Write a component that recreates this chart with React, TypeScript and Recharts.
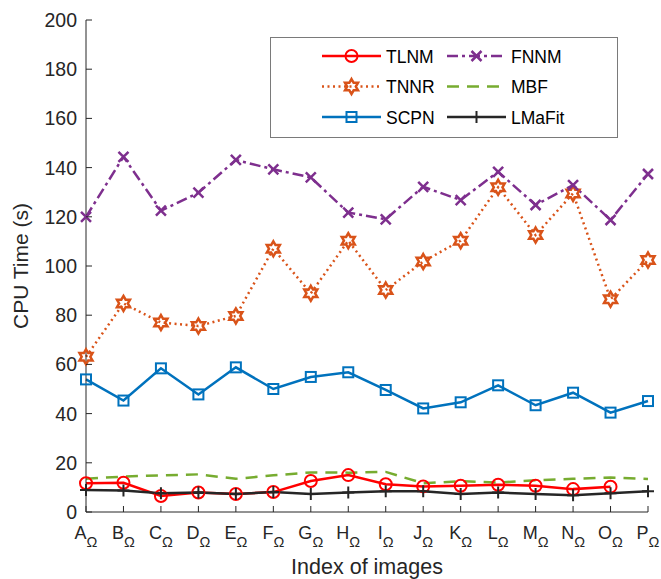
import React from 'react';
import { LineChart, Line, XAxis, YAxis, Legend } from 'recharts';

const categories = ['A', 'B', 'C', 'D', 'E', 'F', 'G', 'H', 'I', 'J', 'K', 'L', 'M', 'N', 'O', 'P'];
const tlnm = [11.7, 11.9, 6.5, 7.9, 7.3, 8.1, 12.6, 15.0, 11.3, 10.4, 10.7, 11.1, 10.7, 9.3, 10.3, null];
const tnnr = [63.1, 84.8, 77.0, 75.6, 79.7, 107.0, 88.9, 110.3, 90.2, 101.8, 110.3, 132.0, 112.6, 129.5, 86.5, 102.4];
const scpn = [53.9, 45.3, 58.4, 47.8, 58.8, 50.0, 54.9, 56.8, 49.6, 42.1, 44.6, 51.5, 43.4, 48.5, 40.4, 45.1];
const fnnm = [120.0, 144.4, 122.5, 129.8, 143.1, 139.3, 136.0, 121.7, 119.0, 132.2, 126.8, 138.3, 124.8, 132.9, 118.7, 137.4];
const mbf = [13.5, 14.4, 14.9, 15.3, 13.5, 14.9, 16.1, 16.0, 16.3, 11.7, 12.5, 12.0, 12.9, 13.5, 14.0, 13.4];
const lmafit = [8.9, 8.7, 7.6, 7.9, 7.3, 8.1, 7.3, 7.9, 8.4, 8.4, 7.3, 7.9, 7.3, 6.8, 7.6, 8.4];
const yTicks = [0, 20, 40, 60, 80, 100, 120, 140, 160, 180, 200];

const data = categories.map((name, i) => ({
  name,
  TLNM: tlnm[i],
  TNNR: tnnr[i],
  SCPN: scpn[i],
  FNNM: fnnm[i],
  MBF: mbf[i],
  LMaFit: lmafit[i],
}));

const AXIS = '#262626';
const FONT = '"Liberation Sans", Arial, sans-serif';

type Marker = 'circle' | 'hex' | 'square' | 'x' | 'none' | 'plus';

const drawMarker = (kind: Marker, cx: number, cy: number, color: string, key?: string) => {
  if (kind === 'circle') return <circle key={key} cx={cx} cy={cy} r={6} fill="none" stroke={color} strokeWidth={2} />;
  if (kind === 'square') return <rect key={key} x={cx - 5} y={cy - 5} width={10} height={10} fill="none" stroke={color} strokeWidth={2} />;
  if (kind === 'x') return (
    <path key={key} d={`M${cx - 5},${cy - 5}L${cx + 5},${cy + 5}M${cx - 5},${cy + 5}L${cx + 5},${cy - 5}`} stroke={color} strokeWidth={2.5} />
  );
  if (kind === 'plus') return (
    <path key={key} d={`M${cx - 6},${cy}L${cx + 6},${cy}M${cx},${cy - 6}L${cx},${cy + 6}`} stroke={color} strokeWidth={2} />
  );
  if (kind === 'hex') {
    const r = 7.5;
    const ri = r / Math.sqrt(3);
    const pts: string[] = [];
    for (let k = 0; k < 12; k++) {
      const rr = k % 2 === 0 ? r : ri;
      const a = (-90 + k * 30) * Math.PI / 180;
      pts.push(`${cx + rr * Math.cos(a)},${cy + rr * Math.sin(a)}`);
    }
    return <polygon key={key} points={pts.join(' ')} fill="none" stroke={color} strokeWidth={2.5} strokeLinejoin="miter" />;
  }
  return <g key={key} />;
};

const series = [
  { key: 'TLNM', color: '#FF0000', dash: undefined, marker: 'circle' as Marker, width: 2.5 },
  { key: 'TNNR', color: '#D95319', dash: '2 3.5', marker: 'hex' as Marker, width: 2.5 },
  { key: 'SCPN', color: '#0072BD', dash: undefined, marker: 'square' as Marker, width: 2.5 },
  { key: 'FNNM', color: '#7E2F8E', dash: '11 4 3 4', marker: 'x' as Marker, width: 2.5 },
  { key: 'MBF', color: '#77AC30', dash: '12 8', marker: 'none' as Marker, width: 2.5 },
  { key: 'LMaFit', color: '#262626', dash: undefined, marker: 'plus' as Marker, width: 2.5 },
];

const legendOrder = ['TLNM', 'FNNM', 'TNNR', 'MBF', 'SCPN', 'LMaFit'];

const LegendBox = () => (
  <svg width={348} height={101} style={{ display: 'block' }}>
    <rect x={0.5} y={0.5} width={347} height={100} fill="#fff" stroke="#7a7a7a" strokeWidth={1} />
    {legendOrder.map((k, i) => {
      const s = series.find(d => d.key === k)!;
      const col = i % 2;
      const row = Math.floor(i / 2);
      const x0 = col === 0 ? 52 : 177;
      const y0 = 19 + row * 30.5;
      return (
        <g key={k}>
          <line x1={x0} y1={y0} x2={x0 + 59} y2={y0} stroke={s.color} strokeWidth={s.width} strokeDasharray={s.dash} />
          {drawMarker(s.marker, x0 + 29.5, y0, s.color)}
          <text x={x0 + 64} y={y0 + 6.5} fontSize={17.5} fontFamily={FONT} fill="#000">{k}</text>
        </g>
      );
    })}
  </svg>
);

const XTick = (props: any) => {
  const { x, y, payload } = props;
  return (
    <g>
      <line x1={x} y1={y} x2={x} y2={y - 6} stroke={AXIS} strokeWidth={1} />
      <text x={x} y={y + 27} textAnchor="middle" fontSize={18} fontFamily={FONT} fill={AXIS}>
        <tspan>{payload.value}</tspan>
        <tspan dy={8} fontSize={14.5}>Ω</tspan>
      </text>
    </g>
  );
};

const XTopTick = (props: any) => {
  const { x, y } = props;
  return <line x1={x} y1={y} x2={x} y2={y + 6} stroke={AXIS} strokeWidth={1} />;
};

const YTick = (props: any) => {
  const { x, y, payload } = props;
  return (
    <g>
      <line x1={x} y1={y} x2={x + 6} y2={y} stroke={AXIS} strokeWidth={1} />
      <text x={x - 9} y={y + 7} textAnchor="end" fontSize={19.5} fontFamily={FONT} fill={AXIS}>{payload.value}</text>
    </g>
  );
};

const YRightTick = (props: any) => {
  const { x, y } = props;
  return <line x1={x} y1={y} x2={x - 6} y2={y} stroke={AXIS} strokeWidth={1} />;
};

export default function App() {
  return (
    <div style={{ position: 'absolute', left: 0, top: 0, background: '#fff' }}>
      <LineChart width={661} height={579} data={data} margin={{ top: 20, right: 13, left: 0, bottom: 0 }}>
        <XAxis dataKey="name" interval={0} height={67} padding={{ left: 0, right: 0 }} tickSize={0} tickMargin={0}
          tickLine={false} stroke={AXIS} tick={<XTick />}
          label={{ value: 'Index of images', position: 'insideBottom', offset: 5, fontSize: 21.5, fontFamily: FONT, fill: AXIS }} />
        <XAxis xAxisId="top" orientation="top" dataKey="name" interval={0} height={0} padding={{ left: 0, right: 0 }}
          tickSize={0} tickMargin={0} tickLine={false} stroke={AXIS} tick={<XTopTick />} />
        <YAxis domain={[0, 200]} ticks={yTicks} width={86} tickSize={0} tickMargin={0} tickLine={false} stroke={AXIS}
          tick={<YTick />}
          label={{ value: 'CPU Time (s)', angle: -90, position: 'insideLeft', offset: 21, fontSize: 21, fontFamily: FONT, fill: AXIS, style: { textAnchor: 'middle' } }} />
        <YAxis yAxisId="right" orientation="right" domain={[0, 200]} ticks={yTicks} width={0} tickSize={0} tickMargin={0}
          tickLine={false} stroke={AXIS} tick={<YRightTick />} />
        {series.map(s => (
          <Line key={s.key} dataKey={s.key} stroke={s.color} strokeWidth={s.width} strokeDasharray={s.dash}
            isAnimationActive={false} connectNulls={false} activeDot={false}
            dot={(p: any) => (p.value == null || p.cx == null ? <g key={`${s.key}-${p.index}`} /> : drawMarker(s.marker, p.cx, p.cy, s.color, `${s.key}-${p.index}`))} />
        ))}
        <Legend layout="horizontal" verticalAlign="middle" align="center" content={<LegendBox />}
          wrapperStyle={{ position: 'absolute', left: 270, top: 37, width: 348, height: 101 }} />
      </LineChart>
    </div>
  );
}
